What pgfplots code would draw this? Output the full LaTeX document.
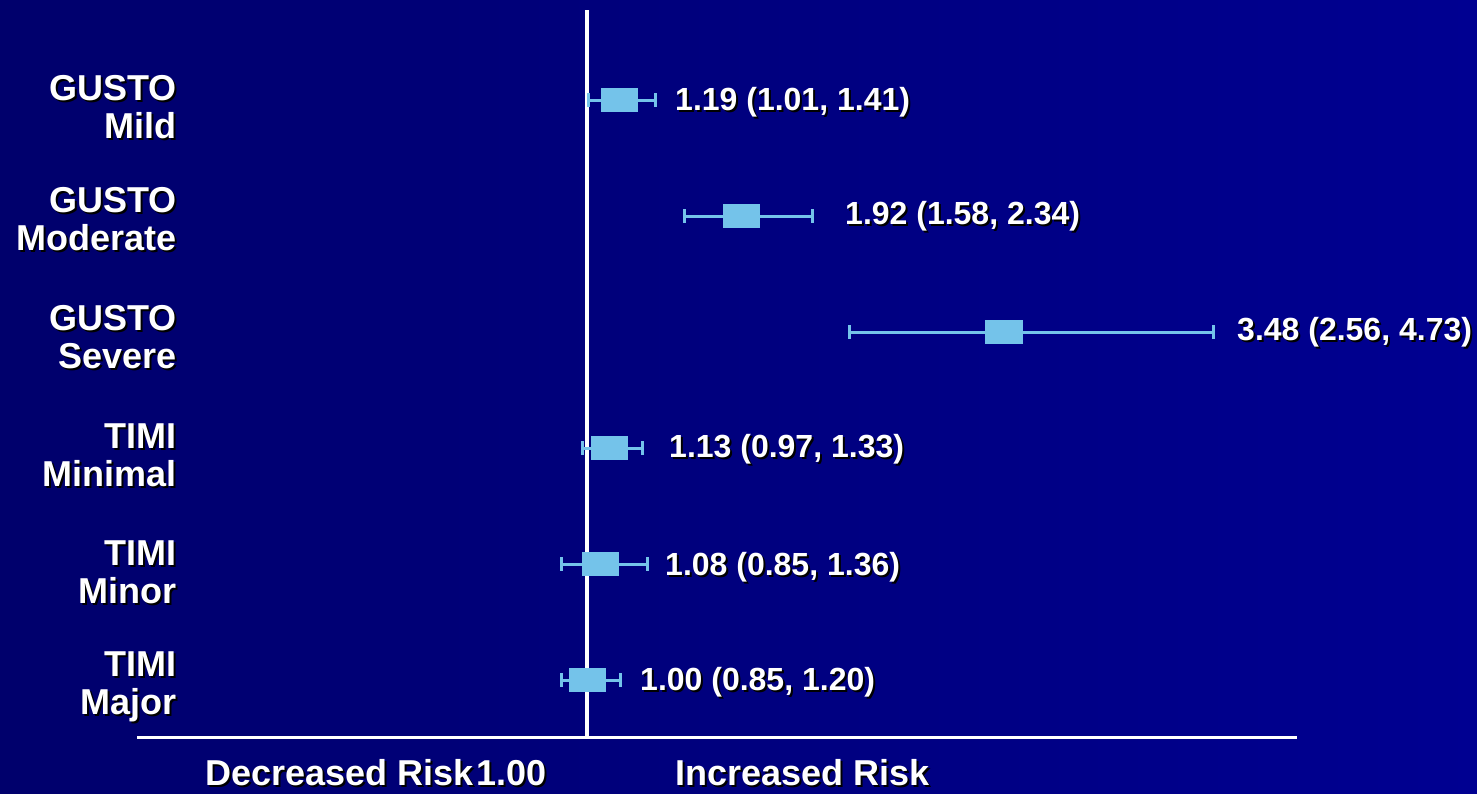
\documentclass[border=0pt]{standalone}
\usepackage{pgfplots}
\usepackage{pgfplotstable}
\pgfplotsset{compat=1.18}
\usepackage{fontspec}
\setmainfont{Liberation Sans}
\definecolor{boxc}{RGB}{116,195,234}
\definecolor{bgl}{RGB}{0,0,108}
\definecolor{bgr}{RGB}{0,0,145}
\newcommand\sh[1]{\makebox[0pt][l]{\hspace*{2pt}\raisebox{-2pt}{\textcolor{black}{#1}}}\textcolor{white}{#1}}
\pgfplotstableread{
y est lo hi
6 1.19 1.01 1.41
5 1.92 1.58 2.34
4 3.48 2.56 4.73
3 1.13 0.97 1.33
2 1.08 0.85 1.36
1 1.00 0.85 1.20
}\forest
\begin{document}
\begin{tikzpicture}[x=1pt,y=1pt]
\useasboundingbox (0,0) rectangle (1477,793);
\fill[left color=bgl, right color=bgr] (0,0) rectangle (1477,793);
\begin{axis}[at={(137pt,56pt)}, anchor=south west, scale only axis,
  width=1160pt, height=727pt,
  xmin=-1.679, xmax=5.226, ymin=0.509, ymax=6.776,
  axis x line=bottom, axis y line=none,
  x axis line style={-, white, line width=3pt},
  xtick=\empty, ytick=\empty, clip=false]
\addplot[white, line width=3.5pt] coordinates {(1,0.509)(1,6.776)};
% whisker caps
\addplot[boxc, only marks, mark=|, mark size=7pt, mark options={line width=3pt}] table[x=lo, y=y] {\forest};
\addplot[boxc, only marks, mark=|, mark size=7pt, mark options={line width=3pt}] table[x=hi, y=y] {\forest};
\addplot[boxc, only marks, mark=square*, mark size=11.5pt,
  mark options={xscale=1.57, fill=boxc, draw=boxc},
  error bars/.cd, x dir=both, x explicit, error mark=none,
  error bar style={boxc, line width=3pt}]
  table[x=est, y=y, x error plus expr=\thisrow{hi}-\thisrow{est}, x error minus expr=\thisrow{est}-\thisrow{lo}] {\forest};
\end{axis}
\begin{scope}[every node/.style={inner sep=0pt, font=\fontsize{36}{38}\selectfont\bfseries, align=right, anchor=east}]
\node at (177,685) {\sh{GUSTO}\\\sh{Mild}};
\node at (177,573) {\sh{GUSTO}\\\sh{Moderate}};
\node at (177,455) {\sh{GUSTO}\\\sh{Severe}};
\node at (177,337) {\sh{TIMI}\\\sh{Minimal}};
\node at (177,220) {\sh{TIMI}\\\sh{Minor}};
\node at (177,105) {\sh{TIMI}\\\sh{Major}};
\end{scope}
\begin{scope}[every node/.style={inner sep=0pt, font=\fontsize{32}{36}\selectfont\bfseries, anchor=west}]
\node at (675,690) {\sh{1.19 (1.01, 1.41)}};
\node at (845,576) {\sh{1.92 (1.58, 2.34)}};
\node at (1237,460) {\sh{3.48 (2.56, 4.73)}};
\node at (669,343) {\sh{1.13 (0.97, 1.33)}};
\node at (665,225) {\sh{1.08 (0.85, 1.36)}};
\node at (640,110) {\sh{1.00 (0.85, 1.20)}};
\end{scope}
\begin{scope}[every node/.style={inner sep=0pt, font=\fontsize{36}{38}\selectfont\bfseries, anchor=base west}]
\node at (205,8) {\sh{Decreased Risk}};
\node at (476,8) {\sh{1.00}};
\node at (675,8) {\sh{Increased Risk}};
\end{scope}
\end{tikzpicture}
\end{document}
